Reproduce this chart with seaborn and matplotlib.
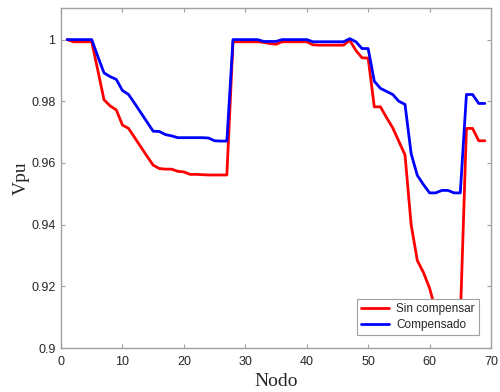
import numpy as np
import pandas as pd
import matplotlib
matplotlib.use("Agg")
import matplotlib.pyplot as plt
import seaborn as sns

# voltajes por nodo
nodos = list(range(1, 70))
sin_compensar = [1.0, 0.9993, 0.9993, 0.9993, 0.9993, 0.990, 0.9805, 0.9785, 0.9772, 0.9723,
                 0.9712, 0.9682, 0.9652, 0.9622, 0.9593, 0.9582, 0.9580, 0.9580, 0.9573, 0.9571,
                 0.9563, 0.9563, 0.9562, 0.9561, 0.9561, 0.9561, 0.9561, 0.9993, 0.9993, 0.9993,
                 0.9993, 0.9993, 0.9991, 0.9987, 0.9985, 0.9993, 0.9993, 0.9993, 0.9993, 0.9993,
                 0.9983, 0.9982, 0.9982, 0.9982, 0.9982, 0.9982, 0.9998, 0.9965, 0.9941, 0.9940,
                 0.9782, 0.9782, 0.9747, 0.9714, 0.9670, 0.9626, 0.9400, 0.9284, 0.9245, 0.9194,
                 0.9121, 0.9118, 0.9115, 0.9096, 0.9092, 0.9712, 0.9712, 0.9672, 0.9672]
compensado = [1.0, 1.0, 1.0, 1.0, 1.0, 0.9945, 0.9892, 0.9880, 0.9871, 0.9835,
              0.9822, 0.9793, 0.9763, 0.9733, 0.9703, 0.9702, 0.9692, 0.9688, 0.9682, 0.9682,
              0.9682, 0.9682, 0.9682, 0.9681, 0.9672, 0.9671, 0.9671, 1.0, 1.0, 1.0,
              1.0, 1.0, 0.9994, 0.9994, 0.9994, 1.0, 1.0, 1.0, 1.0, 1.0,
              0.9993, 0.9993, 0.9993, 0.9993, 0.9993, 0.9993, 1.0003, 0.9993, 0.9971, 0.9971,
              0.9865, 0.9842, 0.9832, 0.9822, 0.9800, 0.9790, 0.9630, 0.9560, 0.9530, 0.9503,
              0.9503, 0.9511, 0.9511, 0.9503, 0.9503, 0.9822, 0.9822, 0.9793, 0.9793]

df = pd.DataFrame({"Nodo": nodos * 2,
                   "Vpu": sin_compensar + compensado,
                   "serie": ["Sin compensar"] * 69 + ["Compensado"] * 69})

sns.set_style("white")
plt.rcParams["font.family"] = ["Liberation Sans", "DejaVu Sans"]

fig = plt.figure(figsize=(5, 3.92), dpi=100)
ax = fig.add_axes([0.122, 0.1122, 0.86, 0.8686])

sns.lineplot(data=df, x="Nodo", y="Vpu", hue="serie",
             palette={"Sin compensar": "#ff0000", "Compensado": "#0000ff"},
             linewidth=2, ax=ax)

ax.set_xlim(0, 70)
ax.set_ylim(0.9, 1.0104)
ax.set_xticks(range(0, 71, 10))
ax.set_yticks([0.9, 0.92, 0.94, 0.96, 0.98, 1.0])
ax.set_yticklabels([f"{v:g}" for v in [0.9, 0.92, 0.94, 0.96, 0.98, 1.0]])

for s in ax.spines.values():
    s.set_visible(True)
    s.set_color("#a0a0a0")
    s.set_linewidth(1)
ax.tick_params(direction="in", length=3, width=0.8, color="#a0a0a0",
               labelsize=9, labelcolor="#262626", top=True, right=True,
               bottom=True, left=True, pad=4)
ax.tick_params(axis="x", pad=6)

ax.set_xlabel("Nodo", family=["Liberation Serif", "DejaVu Serif"], fontsize=14,
              color="#262626", labelpad=3)
ax.set_ylabel("Vpu", family=["Liberation Serif", "DejaVu Serif"], fontsize=14,
              color="#262626", labelpad=1)

leg = ax.legend(loc="lower right", bbox_to_anchor=(0.972, 0.038), borderaxespad=0,
                fontsize=8.5, fancybox=False, framealpha=1, edgecolor="#a0a0a0",
                handlelength=2.4, handletextpad=0.6, borderpad=0.35,
                labelspacing=0.3, title=None)
leg.get_frame().set_linewidth(0.8)

fig.savefig("out.png", dpi=100)
